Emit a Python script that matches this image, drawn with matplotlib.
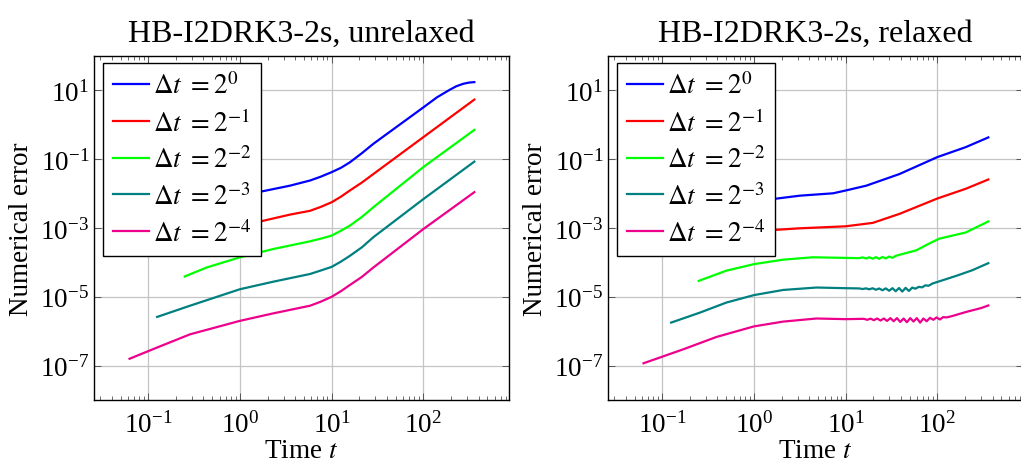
import matplotlib
matplotlib.use('Agg')
import matplotlib.pyplot as plt
from matplotlib.ticker import LogLocator, NullFormatter, NullLocator, LogFormatterSciNotation

plt.rcParams['font.family'] = ['Liberation Serif', 'DejaVu Serif']
plt.rcParams['mathtext.fontset'] = 'stix'

# ---- data (time t, numerical error) ----
# unrelaxed
t_u0 = [1.0, 1.58, 3.51, 5.81, 7.6, 10, 12.6, 15.8, 21.4, 28.5, 100, 141, 195, 229, 273, 316, 360]
e_u0 = [8.5e-3, 1.1e-2, 1.7e-2, 2.4e-2, 3.1e-2, 4.2e-2, 5.6e-2, 8.1e-2, 0.15, 2.8e-1, 3.2,
        6.3, 10.5, 13.2, 15.6, 16.9, 17.4]
t_u1 = [0.5, 1.0, 1.58, 3.51, 5.81, 7.6, 10, 12.6, 15.8, 21.4, 28.5, 100, 360]
e_u1 = [6.8e-4, 1.12e-3, 1.5e-3, 2.45e-3, 3.16e-3, 4.1e-3, 5.6e-3, 8.1e-3, 1.23e-2, 2.1e-2,
        3.7e-2, 0.437, 5.4]
t_u2 = [0.25, 0.433, 1.0, 2.31, 5.81, 7.6, 10, 12.6, 15.8, 21.4, 28.5, 100, 360]
e_u2 = [3.9e-5, 7.1e-5, 1.41e-4, 2.45e-4, 4.1e-4, 4.9e-4, 6.0e-4, 8.3e-4, 1.17e-3, 2.1e-3,
        4.0e-3, 5.9e-2, 0.71]
t_u3 = [0.125, 0.285, 1.0, 2.31, 5.81, 7.6, 10, 12.6, 15.8, 21.4, 28.5, 100, 360]
e_u3 = [2.6e-6, 5.5e-6, 1.66e-5, 2.75e-5, 4.6e-5, 5.8e-5, 7.4e-5, 1.05e-4, 1.55e-4, 2.75e-4,
        5.4e-4, 6.9e-3, 8.5e-2]
t_u4 = [0.0625, 0.123, 0.285, 1.0, 2.31, 5.81, 7.6, 10, 12.6, 15.8, 21.4, 28.5, 100, 360]
e_u4 = [1.58e-7, 3.3e-7, 8.1e-7, 2.0e-6, 3.3e-6, 5.5e-6, 7.2e-6, 1.0e-5, 1.45e-5, 2.2e-5,
        3.8e-5, 7.1e-5, 9.3e-4, 1.1e-2]

# relaxed
t_r0 = [1.0, 1.58, 3.16, 7.3, 10, 16.8, 38.6, 100, 204, 360]
e_r0 = [4.5e-3, 6.9e-3, 8.7e-3, 1.02e-2, 1.23e-2, 1.7e-2, 3.7e-2, 0.115, 0.224, 0.43]
t_r1 = [0.5, 1.0, 1.58, 3.16, 10, 19.8, 38.6, 100, 204, 360]
e_r1 = [4.5e-4, 6.8e-4, 8.7e-4, 9.8e-4, 1.12e-3, 1.41e-3, 2.57e-3, 7.2e-3, 1.38e-2, 2.57e-2]
t_r2 = [0.25, 0.5, 1.0, 2.08, 4.4, 10, 14.1, 15.3, 16.7, 18.1, 19.7, 21.4, 23.2, 25.2,
        27.4, 29.8, 32.4, 35.2, 38.6, 58.9, 81, 105, 204, 360]
e_r2 = [2.9e-5, 5.75e-5, 8.9e-5, 1.2e-4, 1.41e-4, 1.35e-4, 1.33e-4, 1.40e-4, 1.30e-4, 1.41e-4,
        1.28e-4, 1.42e-4, 1.27e-4, 1.44e-4, 1.30e-4, 1.48e-4, 1.36e-4, 1.55e-4, 1.66e-4,
        2.24e-4, 3.5e-4, 4.9e-4, 7.4e-4, 1.55e-3]
t_r3 = [0.125, 0.26, 0.5, 1.0, 2.08, 4.8, 10, 14.1, 15.3, 16.7, 18.1, 19.7, 21.4, 23.2, 25.2,
        27.4, 29.8, 32.4, 35.2, 38.2, 41.5, 45.1, 49.0, 53.2, 57.8, 62.8, 68.2, 74.1, 80.5,
        89.1, 100, 158, 240, 360]
e_r3 = [1.78e-6, 3.5e-6, 6.8e-6, 1.12e-5, 1.58e-5, 1.86e-5, 1.78e-5, 1.75e-5, 1.68e-5, 1.76e-5,
        1.65e-5, 1.77e-5, 1.60e-5, 1.75e-5, 1.55e-5, 1.76e-5, 1.50e-5, 1.78e-5, 1.45e-5,
        1.80e-5, 1.42e-5, 1.82e-5, 1.48e-5, 1.85e-5, 1.72e-5, 1.95e-5, 1.88e-5, 2.15e-5,
        2.1e-5, 2.45e-5, 2.7e-5, 4.0e-5, 5.9e-5, 9.5e-5]
t_r4 = [0.0625, 0.171, 0.39, 1.0, 2.08, 4.8, 10, 15.8, 17.2, 18.7, 20.3, 22.1, 24.0, 26.1,
        28.3, 30.8, 33.4, 36.3, 39.4, 42.9, 46.6, 50.6, 55.0, 59.7, 64.9, 70.5, 76.6, 83.2,
        90.4, 98.2, 106.7, 115.9, 125.9, 145, 204, 300, 360]
e_r4 = [1.17e-7, 3.0e-7, 6.8e-7, 1.38e-6, 1.9e-6, 2.34e-6, 2.24e-6, 2.29e-6, 2.14e-6, 2.32e-6,
        2.09e-6, 2.34e-6, 2.04e-6, 2.34e-6, 1.99e-6, 2.40e-6, 1.95e-6, 2.40e-6, 1.86e-6,
        2.34e-6, 1.82e-6, 2.40e-6, 1.91e-6, 2.40e-6, 1.78e-6, 2.34e-6, 1.95e-6, 2.45e-6,
        2.15e-6, 2.51e-6, 2.19e-6, 2.57e-6, 2.51e-6, 2.75e-6, 3.6e-6, 4.7e-6, 5.6e-6]

labels = [r'$\Delta t\ = 2^{0}$', r'$\Delta t\ = 2^{-1}$', r'$\Delta t\ = 2^{-2}$',
          r'$\Delta t\ = 2^{-3}$', r'$\Delta t\ = 2^{-4}$']
colors = ['#0000ff', '#ff0000', '#00ff00', '#008080', '#ec008c']

W, H = 1021, 464
fig = plt.figure(figsize=(W / 100, H / 100), dpi=100)
ax_l = fig.add_axes([94 / W, 1 - 401 / H, 415 / W, 344 / H])
ax_r = fig.add_axes([608 / W, 1 - 401 / H, 415 / W, 344 / H])


def style(ax, title):
    ax.set_xscale('log')
    ax.set_yscale('log')
    ax.set_xlim(0.0256, 860)
    ax.set_ylim(1e-8, 1e2)
    ax.set_yticks([1e-7, 1e-5, 1e-3, 1e-1, 1e1])
    ax.yaxis.set_major_formatter(LogFormatterSciNotation())
    ax.yaxis.set_minor_locator(NullLocator())
    ax.xaxis.set_major_locator(LogLocator(base=10, numticks=12))
    ax.xaxis.set_minor_locator(LogLocator(base=10, subs=range(2, 10), numticks=12))
    ax.xaxis.set_minor_formatter(NullFormatter())
    ax.tick_params(which='both', direction='in', top=True, right=True,
                   color='#555555', labelsize=19.5)
    ax.tick_params(axis='x', pad=8)
    ax.tick_params(which='major', length=5, width=0.7)
    ax.tick_params(which='minor', length=3, width=0.6)
    ax.grid(True, which='major', color='#c4c4c4', lw=0.9)
    ax.set_axisbelow(True)
    for sp in ax.spines.values():
        sp.set_linewidth(1.0)
    ax.set_title(title, fontsize=23, pad=11)
    ax.set_xlabel(r'Time $t$', fontsize=19.5, labelpad=0)
    ax.set_ylabel('Numerical error', fontsize=19.5)
    ax.yaxis.set_label_coords(-0.145, 0.5)


style(ax_l, 'HB-I2DRK3-2s, unrelaxed')
style(ax_r, 'HB-I2DRK3-2s, relaxed')

for t, e, c, lab in zip([t_u0, t_u1, t_u2, t_u3, t_u4], [e_u0, e_u1, e_u2, e_u3, e_u4], colors, labels):
    ax_l.plot(t, e, color=c, lw=1.6, label=lab)
for t, e, c, lab in zip([t_r0, t_r1, t_r2, t_r3, t_r4], [e_r0, e_r1, e_r2, e_r3, e_r4], colors, labels):
    ax_r.plot(t, e, color=c, lw=1.6, label=lab)

for ax in (ax_l, ax_r):
    leg = ax.legend(loc='upper left', bbox_to_anchor=(0.022, 0.98), borderaxespad=0,
                    fontsize=19.5, frameon=True, fancybox=False, framealpha=1,
                    edgecolor='black', handlelength=1.35, handletextpad=0.15,
                    labelspacing=0.36, borderpad=0.35)
    leg.get_frame().set_linewidth(1.0)

fig.savefig('out.png', dpi=100)
